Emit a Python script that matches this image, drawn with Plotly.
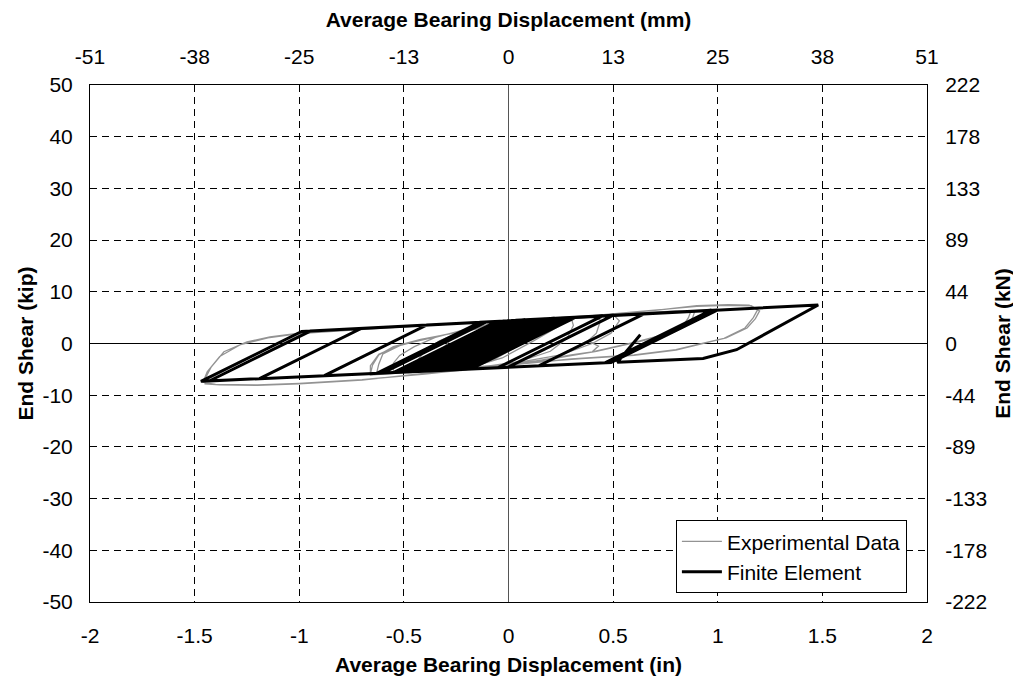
import plotly.graph_objects as go

# ---------------- data ----------------
x_ticks = [-2, -1.5, -1, -0.5, 0, 0.5, 1, 1.5, 2]
x_tick_in = ["-2", "-1.5", "-1", "-0.5", "0", "0.5", "1", "1.5", "2"]
x_tick_mm = ["-51", "-38", "-25", "-13", "0", "13", "25", "38", "51"]
y_ticks = [-50, -40, -30, -20, -10, 0, 10, 20, 30, 40, 50]
y_tick_kip = ["-50", "-40", "-30", "-20", "-10", "0", "10", "20", "30", "40", "50"]
y_tick_kn = ["-222", "-178", "-133", "-89", "-44", "0", "44", "89", "133", "178", "222"]

# Finite element response (in, kip)
fe_x = [0, 0.05, -0.253, -0.45, 0.047, 0.08, -0.417, -0.42, 0.077, 0.10, -0.397, -0.48,
        0.016, 0.14, -0.358, -0.40, 0.097, 0.18, -0.318, -0.46, 0.036, 0.20, -0.299, -0.36,
        0.138, 0.22, -0.279, -0.50, -0.004, 0.25, -0.249, -0.33, 0.168, 0.28, -0.22,
        -0.43, 0.067, 0.11, -0.387, -0.47, 0.026, 0.24, -0.259, -0.37, 0.128, 0.16, -0.338,
        -0.44, 0.057, 0.27, -0.23, -0.31, 0.189, 0.30, -0.20, -0.52, -0.025, 0.13, -0.368,
        -0.55, -0.055, 0.32, -0.18, -0.60, -0.106, 0.45, -0.052, -0.63, -0.136, 0.50, -0.003, -0.88,
        -0.39, 0.65, 0.145, -1.19, -0.704, 0.97, 0.461, -1.43, -0.947, 1.0, 0.49, -1.47,
        -0.988, 1.48, 1.09, 0.93, 0.52, 0.63]
fe_y = [0, 1.0, -5.07, -5.43, 4.50, 4.57, -5.37, -5.38, 4.56, 4.61, -5.33, -5.49,
        4.43, 4.69, -5.26, -5.34, 4.60, 4.78, -5.19, -5.45, 4.48, 4.82, -5.15, -5.27,
        4.69, 4.86, -5.12, -5.53, 4.39, 4.93, -5.06, -5.21, 4.75, 4.99, -5.01,
        -5.40, 4.54, 4.63, -5.32, -5.47, 4.45, 4.90, -5.08, -5.28, 4.67, 4.74, -5.23,
        -5.41, 4.52, 4.97, -5.03, -5.17, 4.80, 5.03, -4.97, -5.56, 4.35, 4.67, -5.28,
        -5.62, 4.28, 5.07, -4.93, -5.71, 4.18, 5.35, -4.70, -5.77, 4.11, 5.45, -4.61, -6.23,
        3.58, 5.77, -4.33, -6.80, 2.92, 6.44, -3.75, -7.25, 2.41, 6.5, -3.69, -7.32,
        2.33, 7.45, -1.2, -2.88, -3.64, 1.7]

# Experimental response (in, kip)
exp_x = [0.0, 0.08, 0.15, 0.2, 0.19, 0.06, -0.08, -0.18, -0.25,
         -0.23, -0.12, 0.02, 0.13, 0.22, 0.2, 0.08, -0.06, -0.2, -0.28,
         -0.26, -0.15, 0.0, 0.12, 0.25, 0.24, 0.12, -0.03, -0.18, -0.3,
         -0.35, -0.34, -0.28, -0.2, -0.1, 0.05, 0.2, 0.3, 0.31, 0.28, 0.2, 0.05, -0.1, -0.25, -0.36,
         -0.45, -0.44, -0.4, -0.33, -0.2, -0.05, 0.2, 0.4, 0.44, 0.42, 0.38, 0.43, 0.4, 0.3, 0.1, -0.1, -0.3, -0.46,
         -0.55, -0.55, -0.52, -0.45, -0.35, -0.2, 0.0, 0.3, 0.5, 0.53, 0.49, 0.4, 0.25, 0.0, -0.3, -0.56,
         -0.63, -0.62, -0.6, -0.52, -0.4, -0.2, 0.0, 0.3, 0.6, 0.8, 0.87, 0.86, 0.83, 0.75, 0.6, 0.4, 0.2, 0.0, -0.3, -0.64,
         -0.66, -0.65, -0.62, -0.55, -0.42, -0.2, 0.0, 0.3, 0.6, 0.8, 0.89, 0.88, 0.85, 0.78, 0.62, 0.42, 0.2, 0.0, -0.3, -0.66,
         -0.66, -0.62, -0.52, -0.3, 0.0, 0.4, 0.7, 0.9, 1.05, 1.15, 1.19, 1.17, 1.13, 1.03, 0.9, 0.8, 0.6, 0.35, 0.0, -0.4, -0.7, -1.0, -1.2, -1.38, -1.45,
         -1.45, -1.42, -1.36, -1.25, -1.14, -1.0, -0.8, -0.6, -0.3, 0.0, 0.4, 0.7, 0.9, 1.05, 1.16, 1.2, 1.18, 1.14, 1.04, 0.9, 0.8, 0.6, 0.3, 0.0, -0.4, -0.7, -1.0, -1.2, -1.4, -1.46,
         -1.44, -1.38, -1.28, -1.15, -1.0, -0.6, -0.3]
exp_y = [0.0, 2.0, 3.8, 4.5, 3.0, 0.0, -3.0, -4.5, -4.9,
         -3.4, -0.8, 2.3, 4.1, 4.6, 3.2, 0.3, -2.9, -4.6, -4.9,
         -3.2, -0.3, 2.8, 4.3, 4.8, 3.3, 0.5, -2.8, -4.6, -5.0,
         -4.9, -2.0, 0.5, 2.5, 3.7, 4.3, 4.7, 4.9, 3.5, 1.0, -1.5, -3.5, -4.4, -4.8, -5.0,
         -5.1, -3.5, -1.5, 0.5, 2.8, 4.0, 4.9, 5.3, 4.5, 2.0, 0.5, -0.5, -1.6, -2.2, -3.6, -4.5, -5.0, -5.3,
         -5.4, -3.8, -2.3, -0.6, 1.2, 2.8, 4.1, 5.0, 5.6, 4.4, 2.0, 0.0, -2.2, -4.0, -5.0, -5.6,
         -5.7, -4.0, -2.0, -0.4, 0.9, 2.6, 3.9, 4.9, 5.8, 6.2, 6.1, 5.0, 3.2, 1.8, 0.2, -1.6, -3.0, -4.1, -5.0, -5.9,
         -5.9, -4.2, -2.2, -0.6, 0.8, 2.5, 3.8, 4.8, 5.8, 6.3, 6.2, 5.0, 3.4, 2.0, 0.3, -1.5, -3.0, -4.2, -5.1, -6.1,
         -4.3, -2.1, -0.3, 1.7, 3.9, 5.3, 6.4, 7.3, 7.5, 7.4, 6.5, 5.0, 3.0, 1.0, -0.3, -1.3, -2.3, -2.9, -4.0, -5.8, -7.1, -7.8, -8.1, -8.0, -7.8,
         -6.8, -4.5, -1.6, 0.3, 1.3, 2.0, 2.5, 3.1, 3.8, 4.4, 5.4, 6.4, 7.2, 7.4, 7.3, 6.3, 4.8, 3.0, 1.1, -0.2, -1.2, -2.2, -3.0, -4.2, -5.9, -7.0, -7.7, -8.0, -7.9, -7.5,
         -5.5, -2.5, -0.2, 1.1, 1.9, 3.0, 3.7]

# ---------------- figure ----------------
FONT = "Liberation Sans, Arial, sans-serif"
TICK_SIZE = 21
TITLE_SIZE = 21
DASH = "7px,5px"

fig = go.Figure()
fig.add_trace(go.Scatter(x=exp_x, y=exp_y, mode="lines", name="Experimental Data",
                         line=dict(color="#939393", width=1.3)))
fig.add_trace(go.Scatter(x=fe_x, y=fe_y, mode="lines", name="Finite Element",
                         line=dict(color="black", width=3)))
# invisible trace anchoring the secondary (mm / kN) axes
fig.add_trace(go.Scatter(x=[0], y=[0], xaxis="x2", yaxis="y2", mode="markers",
                         marker=dict(opacity=0), showlegend=False, hoverinfo="skip"))

axis_common = dict(showline=True, linecolor="black", linewidth=1, ticks="",
                   automargin=False,
                   tickfont=dict(family=FONT, size=TICK_SIZE, color="black"))

fig.update_layout(
    width=1021, height=686,
    margin=dict(l=82, r=102, t=77, b=92),
    paper_bgcolor="white", plot_bgcolor="white",
    font=dict(family=FONT, color="black"),
    showlegend=True,
    legend=dict(x=0.70, y=0.158, xanchor="left", yanchor="top",
                bgcolor="white", bordercolor="black", borderwidth=1,
                font=dict(family=FONT, size=TICK_SIZE, color="black"),
                tracegroupgap=0, itemwidth=40),
    xaxis=dict(range=[-2, 2], tickvals=x_ticks, ticktext=x_tick_in,
               showgrid=True, gridcolor="black", gridwidth=1, griddash=DASH,
               zeroline=True, zerolinecolor="#555555", zerolinewidth=1,
               mirror=True, ticklabelstandoff=15,
               title=dict(text="<b>Average Bearing Displacement (in)</b>",
                          font=dict(family=FONT, size=TITLE_SIZE), standoff=11),
               **axis_common),
    yaxis=dict(range=[-50, 50], tickvals=y_ticks, ticktext=y_tick_kip,
               showgrid=True, gridcolor="black", gridwidth=1, griddash=DASH,
               zeroline=True, zerolinecolor="black", zerolinewidth=1,
               mirror=True, ticklabelstandoff=12,
               title=dict(text="<b>End Shear (kip)</b>",
                          font=dict(family=FONT, size=TITLE_SIZE), standoff=3),
               **axis_common),
    xaxis2=dict(overlaying="x", side="top", range=[-2, 2], tickvals=x_ticks,
                ticktext=x_tick_mm, showgrid=False, zeroline=False,
                ticklabelstandoff=12,
                title=dict(text="<b>Average Bearing Displacement (mm)</b>",
                           font=dict(family=FONT, size=TITLE_SIZE), standoff=16),
                **axis_common),
    yaxis2=dict(overlaying="y", side="right", range=[-50, 50], tickvals=y_ticks,
                ticktext=y_tick_kn, showgrid=False, zeroline=False,
                ticklabelstandoff=13,
                title=dict(text="<b>End Shear (kN)</b>",
                           font=dict(family=FONT, size=TITLE_SIZE), standoff=9),
                **axis_common),
)

fig.write_html("out.html")
